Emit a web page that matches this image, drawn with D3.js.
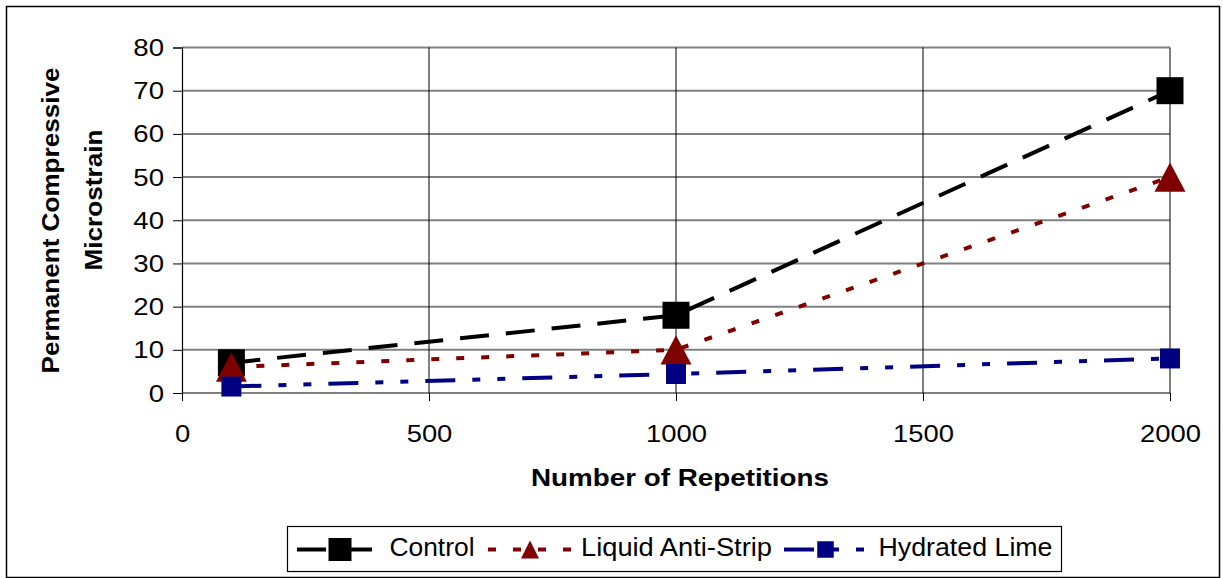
<!DOCTYPE html>
<html><head><meta charset="utf-8">
<script src="https://cdn.jsdelivr.net/npm/d3@7"></script>
<style>
body{margin:0;background:#fff;}
text{font-family:"Liberation Sans",Arial,sans-serif;}
</style></head>
<body><svg id="c" width="1223" height="578"></svg>
<script>
const repetitions = [100, 1000, 2000];
const control = [7, 18, 70];
const liquidAntiStrip = [6, 10, 50];
const hydratedLime = [1.5, 4.4, 8];
const seriesNames = ["Control", "Liquid Anti-Strip", "Hydrated Lime"];
const xTicks = [0, 500, 1000, 1500, 2000];
const yTicks = [0, 10, 20, 30, 40, 50, 60, 70, 80];
const xTitle = "Number of Repetitions";
const yTitle = ["Permanent Compressive", "Microstrain"];

const svg = d3.select("#c");
svg.append("rect").attr("width",1223).attr("height",578).attr("fill","#fff");
svg.append("rect").attr("x",6.5).attr("y",6.5).attr("width",1213).attr("height",571)
  .attr("fill","none").attr("stroke","#000").attr("stroke-width",1.5);

const x = d3.scaleLinear().domain([0,2000]).range([182,1170]);
const y = d3.scaleLinear().domain([0,80]).range([393,47.5]);

function stretch(sel, factor){
  sel.each(function(){
    const w = this.getComputedTextLength();
    d3.select(this).attr("textLength", w*factor).attr("lengthAdjust","spacingAndGlyphs");
  });
}

// horizontal gridlines
svg.append("g").selectAll("line").data(yTicks).join("line")
  .attr("x1",x(0)).attr("x2",x(2000)).attr("y1",d=>y(d)).attr("y2",d=>y(d))
  .attr("stroke","#808080").attr("stroke-width",2);
// vertical gridlines
svg.append("g").selectAll("line").data(xTicks.slice(1)).join("line")
  .attr("x1",d=>x(d)).attr("x2",d=>x(d)).attr("y1",y(80)).attr("y2",y(0))
  .attr("stroke","#000").attr("stroke-width",1);

// axes
const yAxis = d3.axisLeft(y).tickValues(yTicks).tickFormat(d3.format("d")).tickSize(9).tickPadding(9);
const gy = svg.append("g").attr("transform","translate(182,0)").call(yAxis);
gy.select(".domain").attr("stroke","#000").attr("stroke-width",1.2);
gy.selectAll(".tick line").attr("stroke","#000");
gy.selectAll("text").attr("font-size",23).attr("fill","#000").attr("font-family","Liberation Sans")
  .attr("dy","0.35em");
stretch(gy.selectAll("text"), 1.2);

const xAxis = d3.axisBottom(x).tickValues(xTicks).tickFormat(d3.format("d")).tickSize(8).tickPadding(10);
const gx = svg.append("g").attr("transform","translate(0,393)").call(xAxis);
gx.select(".domain").remove();
gx.selectAll(".tick line").attr("stroke","#000");
gx.selectAll("text").attr("font-size",23).attr("fill","#000").attr("font-family","Liberation Sans")
  .attr("dy",null).attr("y",48.5);
stretch(gx.selectAll("text"), 1.19);

// titles
svg.append("text").attr("x",680).attr("y",486).attr("text-anchor","middle")
  .attr("font-size",24).attr("font-weight","bold")
  .attr("textLength",298).attr("lengthAdjust","spacingAndGlyphs").text(xTitle);
svg.append("text").attr("transform","translate(58.5,220.5) rotate(-90)").attr("text-anchor","middle")
  .attr("font-size",24).attr("font-weight","bold")
  .attr("textLength",306).attr("lengthAdjust","spacingAndGlyphs").text(yTitle[0]);
svg.append("text").attr("transform","translate(101.5,200) rotate(-90)").attr("text-anchor","middle")
  .attr("font-size",24).attr("font-weight","bold")
  .attr("textLength",141).attr("lengthAdjust","spacingAndGlyphs").text(yTitle[1]);

const series = [
  {name:seriesNames[0], vals:control, color:"#000000", dash:"29,17", marker:"square", size:27},
  {name:seriesNames[1], vals:liquidAntiStrip, color:"#800000", dash:"8,17", marker:"triangle", size:31},
  {name:seriesNames[2], vals:hydratedLime, color:"#000080", dash:"30,17,8,17,8,17", marker:"square", size:20}
];
const line = d3.line().x(d=>x(d[0])).y(d=>y(d[1]));

function drawMarker(g, m, cx, cy, s, color, hRatio){
  if(m==="square"){
    g.append("rect").attr("x",cx-s/2).attr("y",cy-s/2).attr("width",s).attr("height",s).attr("fill",color);
  } else {
    const h = s*(hRatio||0.94);
    g.append("path").attr("d",`M${cx},${cy-h/2}L${cx+s/2},${cy+h/2}L${cx-s/2},${cy+h/2}Z`).attr("fill",color);
  }
}

series.forEach(s=>{
  const pts = repetitions.map((r,i)=>[r,s.vals[i]]);
  svg.append("path").attr("d",line(pts)).attr("fill","none").attr("stroke",s.color)
    .attr("stroke-width",4).attr("stroke-dasharray",s.dash);
});
series.forEach(s=>{
  const g = svg.append("g");
  repetitions.forEach((r,i)=>drawMarker(g,s.marker,x(r),y(s.vals[i]),s.size,s.color));
});

// legend
const lg = svg.append("g");
lg.append("rect").attr("x",287.5).attr("y",526.5).attr("width",774).attr("height",45)
  .attr("fill","#fff").attr("stroke","#000").attr("stroke-width",1.2);
const legItems = [
  {s:series[0], x1:297, x2:372, mx:340, tx:389.5, tw:85, msize:23},
  {s:series[1], x1:488, x2:571, mx:530, tx:581, tw:191, msize:18},
  {s:series[2], x1:784, x2:866, mx:825.5, tx:878.5, tw:174, msize:16.5}
];
legItems.forEach(it=>{
  const cy = 549.5;
  lg.append("line").attr("x1",it.x1).attr("x2",it.x2).attr("y1",cy).attr("y2",cy)
    .attr("stroke",it.s.color).attr("stroke-width",4).attr("stroke-dasharray",it.s.dash);
  drawMarker(lg,it.s.marker,it.mx,cy,it.msize,it.s.color,1.0);
  lg.append("text").attr("x",it.tx).attr("y",555.5).attr("font-size",25)
    .attr("textLength",it.tw).attr("lengthAdjust","spacingAndGlyphs").text(it.s.name);
});
</script></body></html>
